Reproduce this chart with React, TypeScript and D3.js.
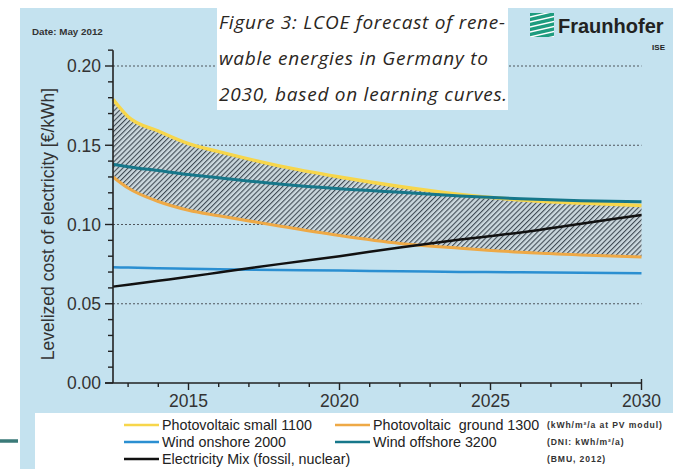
import React from "react";
import * as d3 from "d3";

// ---- data ----
const years = [2012.5, 2013, 2014, 2015, 2016, 2018, 2020, 2022, 2024, 2026, 2028, 2030];
const pvSmall = [0.179, 0.168, 0.159, 0.151, 0.146, 0.137, 0.130, 0.124, 0.119, 0.1155, 0.1135, 0.112];
const pvGround = [0.130, 0.123, 0.1145, 0.109, 0.1055, 0.099, 0.093, 0.088, 0.085, 0.0825, 0.0808, 0.0795];
const windOffshore = [0.138, 0.1365, 0.134, 0.1315, 0.1295, 0.1255, 0.1225, 0.1203, 0.118, 0.1162, 0.115, 0.1144];
const windOnshore = [0.073, 0.0728, 0.0724, 0.0721, 0.0718, 0.0713, 0.0709, 0.0705, 0.0701, 0.0698, 0.0695, 0.0692];
const elecMix = [0.0608, 0.062, 0.0645, 0.067, 0.0697, 0.075, 0.08, 0.0855, 0.0905, 0.095, 0.1005, 0.106];

const xMajorTicks = [2015, 2020, 2025, 2030];
const yMajorTicks = [0, 0.05, 0.1, 0.15, 0.2];

const titleLines = [
  "Figure 3: LCOE forecast of rene-",
  "wable energies in Germany to",
  "2030, based on learning curves.",
];

const legendRows = [
  [
    { label: "Photovoltaic small 1100", color: "#f7d64b" },
    { label: "Photovoltaic  ground 1300", color: "#eea946" },
    { note: "(kWh/m²/a at PV modul)" },
  ],
  [
    { label: "Wind onshore 2000", color: "#2b8fd1" },
    { label: "Wind offshore 3200", color: "#16778a" },
    { note: "(DNI: kWh/m²/a)" },
  ],
  [
    { label: "Electricity Mix (fossil, nuclear)", color: "#111111" },
    null,
    { note: "(BMU, 2012)" },
  ],
];

const FONT = "'Liberation Sans', Arial, sans-serif";

export default function App() {
  const x = d3.scaleLinear().domain([2012.5, 2030]).range([113, 641.5]);
  const y = d3.scaleLinear().domain([0, 0.2]).range([383, 66]);

  const pts = (vals: number[]) => years.map((yr, i) => [yr, vals[i]] as [number, number]);
  const line = d3
    .line<[number, number]>()
    .x((d) => x(d[0]))
    .y((d) => y(d[1]))
    .curve(d3.curveMonotoneX);
  const area = d3
    .area<number>()
    .x((_, i) => x(years[i]))
    .y0((_, i) => y(pvGround[i]))
    .y1((_, i) => y(pvSmall[i]))
    .curve(d3.curveMonotoneX);

  const minorX = d3.range(2013, 2031);
  const minorY = d3.range(0, 22).map((i) => i / 100);

  const legendX = [124, 335, 547];
  const legendY = [425, 442, 459];

  return (
    <svg
      width={673}
      height={469}
      style={{ position: "absolute", left: 0, top: 0, background: "#fff" }}
    >
      <defs>
        <pattern id="hatch" patternUnits="userSpaceOnUse" width={3.6} height={3.6} patternTransform="rotate(45)">
          <rect width={3.6} height={3.6} fill="#cbd8de" />
          <line x1={0} y1={0} x2={0} y2={3.6} stroke="#3f4a54" strokeWidth={2.2} />
        </pattern>
        <clipPath id="logoClip">
          <rect x={530} y={13} width={24} height={24} />
        </clipPath>
      </defs>

      {/* panel background */}
      <rect x={20} y={8} width={653} height={461} fill="#c4e2ef" />

      {/* stub line at bottom-left */}
      <line x1={0} x2={18} y1={441} y2={441} stroke="#3a7a78" strokeWidth={3.5} />

      {/* gridlines */}
      {yMajorTicks.slice(1).map((t) => (
        <line
          key={"g" + t}
          x1={113}
          x2={x(2030)}
          y1={y(t)}
          y2={y(t)}
          stroke="#4f565d"
          strokeWidth={1}
          strokeDasharray="2 2"
        />
      ))}

      {/* band */}
      <path d={area(pvSmall) || ""} fill="url(#hatch)" />
      <path d={line(pts(pvGround)) || ""} fill="none" stroke="#eea946" strokeWidth={3} />
      <path d={line(pts(pvSmall)) || ""} fill="none" stroke="#f7d64b" strokeWidth={3.5} />
      <path d={line(pts(windOnshore)) || ""} fill="none" stroke="#2b8fd1" strokeWidth={2.5} />
      <path d={line(pts(windOffshore)) || ""} fill="none" stroke="#16778a" strokeWidth={3} />
      <path d={line(pts(elecMix)) || ""} fill="none" stroke="#111" strokeWidth={2.5} />

      {/* y axis */}
      <line x1={113} x2={113} y1={y(0.21)} y2={383} stroke="#222" strokeWidth={1.6} />
      {minorY.map((t) => {
        const major = Math.round(t * 100) % 5 === 0;
        return (
          <line
            key={"yt" + t}
            x1={major ? 105 : 108}
            x2={113}
            y1={y(t)}
            y2={y(t)}
            stroke="#222"
            strokeWidth={1.4}
          />
        );
      })}
      {yMajorTicks.map((t) => (
        <text
          key={"yl" + t}
          x={101}
          y={y(t)}
          dy="0.36em"
          textAnchor="end"
          fontFamily={FONT}
          fontSize={17.5}
          fill="#333"
        >
          {t.toFixed(2)}
        </text>
      ))}

      {/* x axis */}
      <line x1={105} x2={x(2030)} y1={383} y2={383} stroke="#222" strokeWidth={1.6} />
      <line x1={x(2030)} x2={x(2030)} y1={379} y2={383} stroke="#222" strokeWidth={1.4} />
      {minorX.map((t) => {
        const major = t % 5 === 0;
        return (
          <line
            key={"xt" + t}
            x1={x(t)}
            x2={x(t)}
            y1={383}
            y2={major ? 390 : 387}
            stroke="#222"
            strokeWidth={1.4}
          />
        );
      })}
      {xMajorTicks.map((t) => (
        <text
          key={"xl" + t}
          x={x(t)}
          y={407}
          textAnchor="middle"
          fontFamily={FONT}
          fontSize={17.5}
          fill="#333"
        >
          {t}
        </text>
      ))}

      {/* y axis title */}
      <text
        transform="translate(54,224) rotate(-90)"
        textAnchor="middle"
        fontFamily={FONT}
        fontSize={17.5}
        fill="#333"
      >
        Levelized cost of electricity [€/kWh]
      </text>

      {/* date */}
      <text x={32} y={35} fontFamily={FONT} fontSize={9.8} fontWeight="bold" fill="#333">
        Date: May 2012
      </text>

      {/* title box */}
      <rect x={217} y={0} width={291} height={110} fill="#fff" />
      {titleLines.map((t, i) => (
        <text
          key={"t" + i}
          x={219}
          y={29 + i * 36}
          fontFamily="'Open Sans', sans-serif"
          fontStyle="italic"
          fontSize={19}
          letterSpacing={0.75}
          fill="#2a2622"
        >
          {t}
        </text>
      ))}

      {/* logo */}
      <g clipPath="url(#logoClip)">
        <rect x={530} y={13} width={24} height={24} fill="#1f9c7f" />
        {d3.range(0, 6).map((i) => (
          <line
            key={"lg" + i}
            x1={526}
            x2={560}
            y1={18 + i * 5}
            y2={10 + i * 5}
            stroke="#fff"
            strokeWidth={1.4}
          />
        ))}
      </g>
      <text x={558} y={33} fontFamily={FONT} fontSize={20} fontWeight="bold" fill="#222">
        Fraunhofer
      </text>
      <text x={665} y={50} textAnchor="end" fontFamily={FONT} fontSize={8} fontWeight="bold" fill="#222">
        ISE
      </text>

      {/* legend */}
      <rect x={35} y={413} width={638} height={56} fill="#fff" />
      {legendRows.map((row, ri) =>
        row.map((item: any, ci) => {
          if (!item) return null;
          const lx = legendX[ci];
          const ly = legendY[ri];
          if (item.note) {
            return (
              <text
                key={`n${ri}`}
                x={lx}
                y={ly}
                dy="0.35em"
                fontFamily={FONT}
                fontSize={8.6}
                letterSpacing={0.9}
                fontWeight="bold"
                fill="#333"
              >
                {item.note}
              </text>
            );
          }
          return (
            <g key={`l${ri}-${ci}`}>
              <line x1={lx} x2={lx + 35} y1={ly} y2={ly} stroke={item.color} strokeWidth={2.5} />
              <text
                x={lx + 38}
                y={ly}
                dy="0.35em"
                fontFamily={FONT}
                fontSize={14.3}
                fill="#222"
                style={{ whiteSpace: "pre" }}
              >
                {item.label}
              </text>
            </g>
          );
        })
      )}
    </svg>
  );
}
